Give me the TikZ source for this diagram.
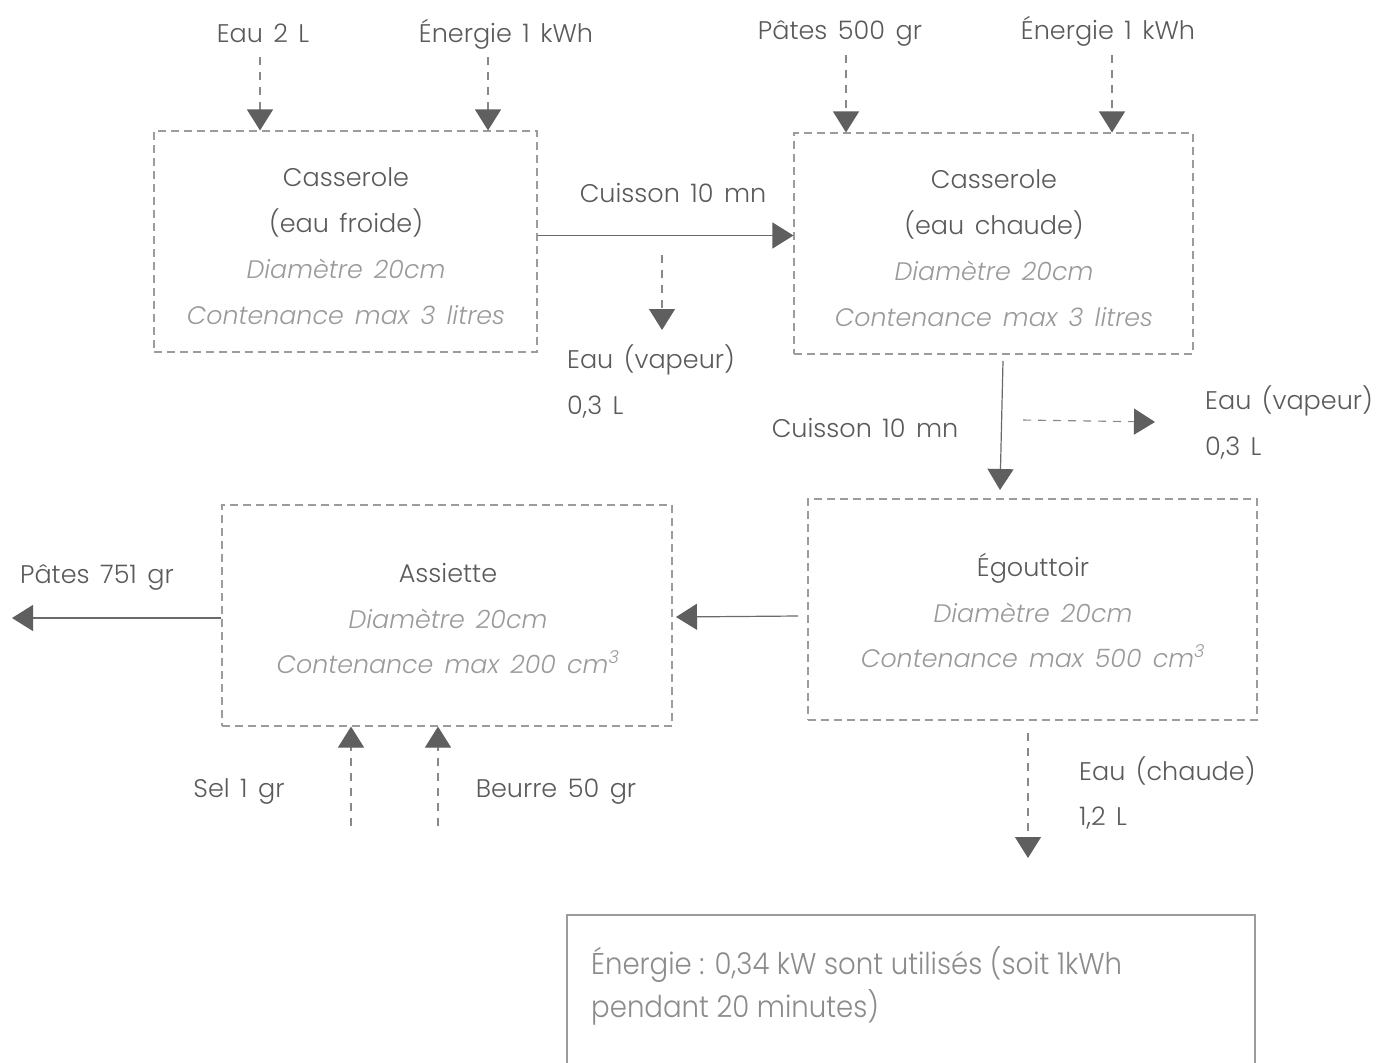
\documentclass[tikz,border=0pt]{standalone}
\usepackage{fontspec}
\IfFontExistsTF{Poppins Light}
  {\setmainfont{Poppins Light}[Numbers=Monospaced, WordSpace=1.5]
   \newfontfamily\notefont{Poppins Light}[FakeStretch=0.92]}
  {\setmainfont{Poppins}[Numbers=Monospaced, WordSpace=1.5]
   \newfontfamily\notefont{Poppins}[FakeStretch=0.92]}
\usetikzlibrary{arrows.meta}
\definecolor{txt}{HTML}{5A5A5A}
\definecolor{sub}{HTML}{9A9A9A}
\definecolor{frame}{HTML}{9C9C9C}
\definecolor{wire}{HTML}{6A6A6A}
\definecolor{tipc}{HTML}{5F5F5F}
\definecolor{note}{HTML}{8C8C8C}
\tikzset{
  lbl/.style={inner sep=0pt, text=txt, font=\fontsize{25.5}{30}\selectfont},
  lblL/.style={lbl, anchor=base west},
  lblC/.style={lbl, anchor=base},
  det/.style={inner sep=0pt, anchor=base, text=sub, font=\fontsize{25.3}{30}\selectfont\itshape},
  notetext/.style={inner sep=0pt, anchor=base west, text=note,
    font=\notefont\fontsize{30}{34}\selectfont},
  stage/.style={draw=frame, line width=1.1pt, dash pattern=on 8pt off 5pt, inner sep=0pt},
  tipx/.style={-{Triangle[width=26pt,length=21pt,fill=tipc,color=tipc]}},
  flow/.style={tipx, draw=wire, line width=1.2pt},
  aux/.style={tipx, draw=wire!80, line width=1.1pt, dash pattern=on 8pt off 7pt},
}
\begin{document}
\begin{tikzpicture}[x=1pt,y=-1pt]
\useasboundingbox (0,0) rectangle (1379,1063);
\fill[white] (0,0) rectangle (1379,1063);
\clip (0,0) rectangle (1379,1063);

% process stages
\node[stage, minimum width=383pt, minimum height=221pt] (b1) at (345.5,241.5) {};
\node[stage, minimum width=399pt, minimum height=221pt] (b2) at (993.5,243.5) {};
\node[stage, minimum width=449pt, minimum height=221pt] (b3) at (1032.5,609.5) {};
\node[stage, minimum width=450pt, minimum height=221pt] (b4) at (447,615.5) {};

% stage texts
\node[lblC] (t1a) at (346,186) {Casserole};
\node[lblC] (t1b) at (346,232) {(eau froide)};
\node[det] (t1c) at (346,278) {Diamètre 20cm};
\node[det] (t1d) at (346,324) {Contenance max 3 litres};

\node[lblC] (t2a) at (994,188) {Casserole};
\node[lblC] (t2b) at (994,234) {(eau chaude)};
\node[det] (t2c) at (994,280) {Diamètre 20cm};
\node[det] (t2d) at (994,326) {Contenance max 3 litres};

\node[lblC] (t3a) at (1033,576) {Égouttoir};
\node[det] (t3b) at (1033,622) {Diamètre 20cm};
\node[det] (t3c) at (1033,667) {Contenance max 500 cm\textsuperscript{3}};

\node[lblC] (t4a) at (448,582) {Assiette};
\node[det] (t4b) at (448,628) {Diamètre 20cm};
\node[det] (t4c) at (448,673) {Contenance max 200 cm\textsuperscript{3}};

% inputs on top
\node[lblC] (in1) at (263,42) {Eau 2 L};
\node[lblC] (in2) at (506,42) {Énergie 1 kWh};
\node[lblC] (in3) at (840,39) {Pâtes 500 gr};
\node[lblC] (in4) at (1108,39) {Énergie 1 kWh};
\coordinate (s1) at (260,57);
\coordinate (s2) at (488,57);
\coordinate (s3) at (846,55);
\coordinate (s4) at (1112,55);
\draw[aux] (s1) -- (s1 |- b1.north);
\draw[aux] (s2) -- (s2 |- b1.north);
\draw[aux] (s3) -- (s3 |- b2.north);
\draw[aux] (s4) -- (s4 |- b2.north);

% first cooking step
\draw[flow] (b1.east) ++(0,-6) coordinate (c1) -- (c1 -| b2.west);
\node[lblC] (k1) at (673,202) {Cuisson 10 mn};
\coordinate (v1) at (662,255);
\coordinate (v1e) at (662,330);
\draw[aux] (v1) -- (v1e);
\node[lblL] (v1a) at (567,368) {Eau (vapeur)};
\node[lblL] (v1b) at (567,414) {0,3 L};

% second cooking step
\coordinate (c2s) at (1003,361);
\coordinate (c2e) at (1000,490);
\draw[flow] (c2s) -- (c2e);
\node[lblC] (k2) at (865,437) {Cuisson 10 mn};
\coordinate (v2) at (1023,420);
\coordinate (v2e) at (1155,422);
\draw[aux] (v2) -- (v2e);
\node[lblL] (v2a) at (1205,409) {Eau (vapeur)};
\node[lblL] (v2b) at (1205,455) {0,3 L};

% draining
\coordinate (d1) at (1028,733);
\coordinate (d1e) at (1028,858);
\draw[aux] (d1) -- (d1e);
\node[lblL] (d1a) at (1079,780) {Eau (chaude)};
\node[lblL] (d1b) at (1079,825) {1,2 L};

% serving
\coordinate (e3) at (798,616);
\coordinate (e4) at (676,617);
\draw[flow] (e3) -- (e4);
\coordinate (out) at (12,618);
\draw[flow] (b4.west |- out) -- (out);
\node[lblC] (o1) at (97,583) {Pâtes 751 gr};

\coordinate (a1) at (351,826);
\coordinate (a2) at (438,826);
\draw[aux] (a1) -- (a1 |- b4.south);
\draw[aux] (a2) -- (a2 |- b4.south);
\node[lblC] (a1t) at (239,797) {Sel 1 gr};
\node[lblC] (a2t) at (556,797) {Beurre 50 gr};

% energy note
\draw[frame, line width=1.1pt] (567,1070) -- (567,915) -- (1255,915) -- (1255,1070);
\node[notetext] (n1) at (591,974) {Énergie : 0,34 kW sont utilisés (soit 1kWh};
\node[notetext] (n2) at (591,1017) {pendant 20 minutes)};
\end{tikzpicture}
\end{document}
